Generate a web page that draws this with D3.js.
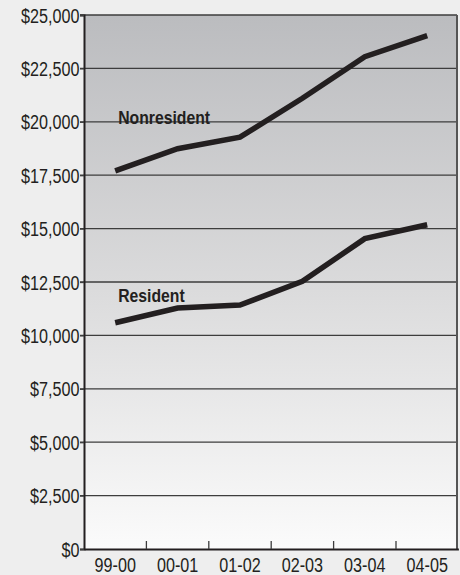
<!DOCTYPE html>
<html>
<head>
<meta charset="utf-8">
<script src="https://cdn.jsdelivr.net/npm/d3@7"></script>
<style>
  html, body { margin: 0; padding: 0; background: #eeeeee; }
  svg { display: block; }
  text { font-family: "Liberation Sans", Arial, sans-serif; fill: #231f20; }
</style>
</head>
<body>
<svg id="chart" width="460" height="575"></svg>
<script>
const years = ["99-00", "00-01", "01-02", "02-03", "03-04", "04-05"];
const nonresident = [17700, 18740, 19280, 21100, 23050, 24030];
const resident = [10590, 11280, 11420, 12530, 14530, 15180];
const yTicks = [0, 2500, 5000, 7500, 10000, 12500, 15000, 17500, 20000, 22500, 25000];
const seriesLabels = ["Nonresident", "Resident"];

const svg = d3.select("#chart");
const mLeft = 84, mRight = 457, mTop = 15, mBottom = 549;
const squeeze = 0.83;

const x = d3.scaleBand().domain(years).range([mLeft, mLeft + 6 * 62.4]);
const y = d3.scaleLinear().domain([0, 25000]).range([mBottom, mTop]);

// background gradient
const defs = svg.append("defs");
const grad = defs.append("linearGradient").attr("id", "bg").attr("x1", 0).attr("y1", 0).attr("x2", 0).attr("y2", 1);
grad.append("stop").attr("offset", "0%").attr("stop-color", "#bbbcbf");
grad.append("stop").attr("offset", "50%").attr("stop-color", "#dadadb");
grad.append("stop").attr("offset", "100%").attr("stop-color", "#fbfbfb");

svg.append("rect")
  .attr("x", mLeft).attr("y", mTop)
  .attr("width", mRight - mLeft).attr("height", mBottom - mTop)
  .attr("fill", "url(#bg)");

// gridlines
svg.append("g").selectAll("line")
  .data(yTicks.filter(d => d > 0))
  .join("line")
  .attr("x1", mLeft - 4).attr("x2", mRight)
  .attr("y1", d => y(d)).attr("y2", d => y(d))
  .attr("stroke", "#3d3d3d").attr("stroke-width", 1.3);

// right border
svg.append("line")
  .attr("x1", mRight).attr("x2", mRight).attr("y1", mTop).attr("y2", mBottom)
  .attr("stroke", "#555").attr("stroke-width", 2);

// y axis
const yAxis = d3.axisLeft(y).tickValues(yTicks).tickSize(4).tickPadding(1)
  .tickFormat(d => "$" + d3.format(",")(d));
const gy = svg.append("g").attr("transform", `translate(${mLeft},0)`).call(yAxis);
gy.attr("font-family", null).attr("font-size", null);
gy.select(".domain").attr("stroke", "#231f20").attr("stroke-width", 2);
gy.selectAll(".tick line").attr("stroke", "#3d3d3d").attr("stroke-width", 1.3);
gy.selectAll(".tick text")
  .attr("font-size", 19.5).attr("fill", "#231f20")
  .attr("x", 0).attr("dy", "0.36em")
  .attr("transform", `translate(-4.5,0) scale(${squeeze},1)`);

// x axis
const xAxis = d3.axisBottom(x).tickSize(0).tickPadding(0);
const gx = svg.append("g").attr("transform", `translate(0,${mBottom})`).call(xAxis);
gx.attr("font-family", null).attr("font-size", null);
gx.select(".domain").attr("stroke", "#231f20").attr("stroke-width", 2);
gx.selectAll(".tick text")
  .attr("font-size", 19.5).attr("fill", "#231f20")
  .attr("y", 23).attr("dy", null)
  .attr("transform", `scale(${squeeze},1)`);

// inner tick marks at band boundaries
svg.append("g").selectAll("line")
  .data(years.slice(1))
  .join("line")
  .attr("x1", d => x(d)).attr("x2", d => x(d))
  .attr("y1", mBottom).attr("y2", mBottom - 8)
  .attr("stroke", "#3d3d3d").attr("stroke-width", 1.3);

// lines
const line = d3.line()
  .x((d, i) => x(years[i]) + x.bandwidth() / 2)
  .y(d => y(d));

[nonresident, resident].forEach(s => {
  svg.append("path")
    .datum(s)
    .attr("d", line)
    .attr("fill", "none")
    .attr("stroke", "#231f20")
    .attr("stroke-width", 5.5)
    .attr("stroke-linejoin", "miter");
});

// series labels
const labelX = x(years[0]) + x.bandwidth() / 2 + 3;
[[seriesLabels[0], y(nonresident[0]) - 47], [seriesLabels[1], y(resident[0]) - 21]].forEach(([t, ly]) => {
  svg.append("text")
    .attr("transform", `translate(${labelX},${ly}) scale(${squeeze},1)`)
    .attr("font-size", 19).attr("font-weight", "bold").text(t);
});
</script>
</body>
</html>
